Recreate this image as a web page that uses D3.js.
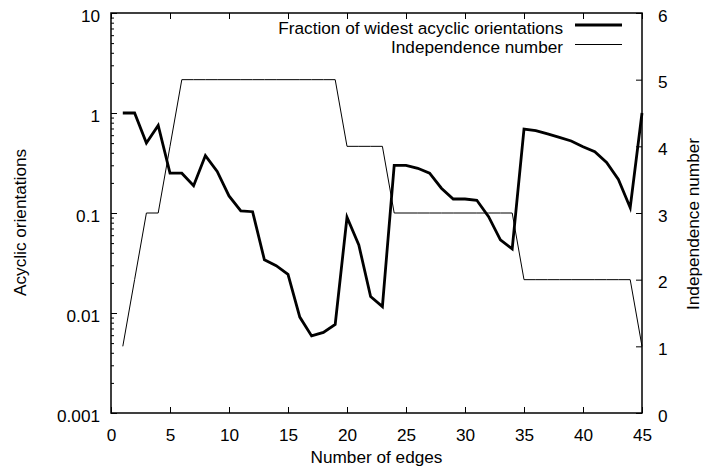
<!DOCTYPE html>
<html>
<head>
<meta charset="utf-8">
<script src="https://cdn.jsdelivr.net/npm/d3@7"></script>
<style>
  body { margin: 0; background: #fff; }
  svg { display: block; }
  text { font-family: "Liberation Sans", Arial, Helvetica, sans-serif; fill: #000; }
</style>
</head>
<body>
<svg id="chart" width="704" height="473"></svg>
<script>
// ---- data ----
const edges = d3.range(1, 46);
const fractionWidest = [
  1, 1, 0.5, 0.75, 0.25, 0.25, 0.1875, 0.375, 0.26, 0.148,
  0.105, 0.103, 0.034, 0.0297, 0.0244, 0.0091, 0.0059, 0.0064, 0.0077, 0.0906,
  0.048, 0.0146, 0.0116, 0.3, 0.3, 0.28, 0.25, 0.177, 0.138, 0.138,
  0.134, 0.092, 0.054, 0.0437, 0.69, 0.666, 0.617, 0.571, 0.525, 0.46,
  0.41, 0.32, 0.217, 0.113, 1
];
const independenceNumber = [
  1, 2, 3, 3, 4, 5, 5, 5, 5, 5,
  5, 5, 5, 5, 5, 5, 5, 5, 5, 4,
  4, 4, 4, 3, 3, 3, 3, 3, 3, 3,
  3, 3, 3, 3, 2, 2, 2, 2, 2, 2,
  2, 2, 2, 2, 1
];
const xTicks = [0, 5, 10, 15, 20, 25, 30, 35, 40, 45];
const yLeftTicks = [0.001, 0.01, 0.1, 1, 10];
const yLeftTickLabels = ["0.001", "0.01", "0.1", "1", "10"];
const yRightTicks = [0, 1, 2, 3, 4, 5, 6];
const seriesNames = ["Fraction of widest acyclic orientations", "Independence number"];
const axisTitles = { x: "Number of edges", yLeft: "Acyclic orientations", yRight: "Independence number" };

// ---- layout ----
const W = 704, H = 473;
const m = { left: 111, right: 62, top: 13, bottom: 60 };
const pw = W - m.left - m.right, ph = H - m.top - m.bottom;
const fs = 17.2;
const textDrop = 2.5; // labels sit slightly below their nominal centre

const svg = d3.select("#chart");
const g = svg.append("g").attr("transform", `translate(${m.left},${m.top})`);

const x = d3.scaleLinear().domain([0, 45]).range([0, pw]);
const yL = d3.scaleLog().domain([0.001, 10]).range([ph, 0]);
const yR = d3.scaleLinear().domain([0, 6]).range([ph, 0]);

const majorLen = 6, minorLen = 3;

// minor log ticks
const minorTicks = [];
[0.001, 0.01, 0.1, 1].forEach(d => { for (let k = 2; k <= 9; k++) minorTicks.push(d * k); });

// bottom axis (inward ticks)
const bottomAxis = d3.axisBottom(x).tickValues(xTicks).tickSize(-majorLen).tickPadding(16).tickFormat(d3.format("d"));
const ab = g.append("g").attr("transform", `translate(0,${ph})`).call(bottomAxis);
// top mirrored ticks
const topAxis = d3.axisTop(x).tickValues(xTicks).tickSize(-majorLen).tickFormat("");
const at = g.append("g").call(topAxis);
// left log axis
const leftAxis = d3.axisLeft(yL).tickValues(yLeftTicks).tickSize(-majorLen).tickPadding(11)
  .tickFormat((d, i) => yLeftTickLabels[i]);
const al = g.append("g").call(leftAxis);
const alMinor = g.append("g").call(d3.axisLeft(yL).tickValues(minorTicks).tickSize(-minorLen).tickFormat(""));
// right axis
const rightAxis = d3.axisRight(yR).tickValues(yRightTicks).tickSize(-majorLen).tickPadding(16).tickFormat(d3.format("d"));
const ar = g.append("g").attr("transform", `translate(${pw},0)`).call(rightAxis);

[ab, at, al, alMinor, ar].forEach(a => {
  a.select(".domain").remove();
  a.selectAll("line").attr("stroke", "#000").attr("stroke-width", 1);
  a.selectAll("text").style("font-size", fs + "px").style("font-family", '"Liberation Sans", Arial, sans-serif').attr("fill", "#000");
});
al.selectAll("text").attr("transform", `translate(0,${textDrop})`);
ar.selectAll("text").attr("transform", `translate(0,${textDrop})`);

// border box
g.append("rect").attr("x", 0).attr("y", 0).attr("width", pw).attr("height", ph)
  .attr("fill", "none").attr("stroke", "#000").attr("stroke-width", 1.5);

// lines
const lineL = d3.line().x((d, i) => x(edges[i])).y(d => yL(d));
const lineR = d3.line().x((d, i) => x(edges[i])).y(d => yR(d));

g.append("path").datum(independenceNumber).attr("d", lineR)
  .attr("fill", "none").attr("stroke", "#000").attr("stroke-width", 1);
g.append("path").datum(fractionWidest).attr("d", lineL)
  .attr("fill", "none").attr("stroke", "#000").attr("stroke-width", 2.8).attr("stroke-linejoin", "miter");

// legend
const legX1 = 575 - m.left, legX2 = 622 - m.left, legTextX = 563 - m.left;
const legY = [25 - m.top, 44.5 - m.top];
seriesNames.forEach((name, i) => {
  g.append("text").attr("x", legTextX).attr("y", legY[i] + textDrop).attr("dy", "0.35em")
    .attr("text-anchor", "end").style("font-size", fs + "px").text(name);
  g.append("line").attr("x1", legX1).attr("x2", legX2).attr("y1", legY[i]).attr("y2", legY[i])
    .attr("stroke", "#000").attr("stroke-width", i === 0 ? 2.8 : 1);
});

// axis titles
svg.append("text").attr("x", m.left + pw / 2).attr("y", 463).attr("text-anchor", "middle")
  .style("font-size", fs + "px").text(axisTitles.x);
svg.append("text").attr("transform", `translate(25.5,296) rotate(-90)`)
  .attr("text-anchor", "start").style("font-size", fs + "px").text(axisTitles.yLeft);
svg.append("text").attr("transform", `translate(699,310) rotate(-90)`)
  .attr("text-anchor", "start").style("font-size", fs + "px").text(axisTitles.yRight);
</script>
</body>
</html>
